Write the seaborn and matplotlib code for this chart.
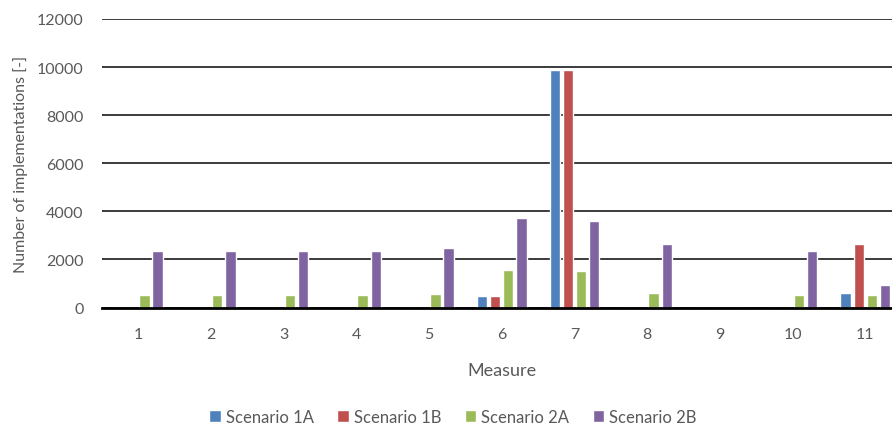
import matplotlib
matplotlib.use('Agg')
import matplotlib.pyplot as plt
import pandas as pd
import seaborn as sns

measures = ['1', '2', '3', '4', '5', '6', '7', '8', '9', '10', '11']
scenarios = ['Scenario 1A', 'Scenario 1B', 'Scenario 2A', 'Scenario 2B']
s1a = [0, 0, 0, 0, 0, 490, 9870, 0, 0, 0, 620]
s1b = [0, 0, 0, 0, 0, 490, 9870, 0, 0, 0, 2650]
s2a = [520, 520, 520, 520, 560, 1540, 1510, 590, 0, 510, 540]
s2b = [2350, 2350, 2350, 2350, 2470, 3740, 3610, 2640, 0, 2365, 925]
colors = ['#4F81BD', '#C0504D', '#9BBB59', '#8064A2']

rows = []
for name, vals in zip(scenarios, [s1a, s1b, s2a, s2b]):
    for m, v in zip(measures, vals):
        rows.append({'Measure': m, 'Scenario': name, 'Count': v})
df = pd.DataFrame(rows)

sns.set_theme(style='white')
plt.rcParams['font.family'] = ['Lato', 'DejaVu Sans']

f = plt.figure(figsize=(8.92, 4.27), dpi=100)
ax = f.add_axes([0.1139, 0.2775, 0.897, 0.6757])
sns.barplot(data=df, x='Measure', y='Count', hue='Scenario', order=measures,
            hue_order=scenarios, palette=colors, width=0.72, gap=0.2,
            saturation=1, ax=ax, legend=True)

ax.set_ylim(0, 12000)
ax.set_xlim(-0.5, 10.5)
ax.set_yticks(range(0, 12001, 2000))
ax.yaxis.grid(True, color='#1a1a1a', linewidth=1.2)
ax.set_axisbelow(True)
for s in ['left', 'right', 'top']:
    ax.spines[s].set_visible(False)
ax.spines['bottom'].set_color('black')
ax.spines['bottom'].set_linewidth(2)
ax.tick_params(axis='x', length=0, pad=14, labelsize=11.5, labelcolor='#595959')
ax.tick_params(axis='y', length=0, pad=13, labelsize=11.5, labelcolor='#595959')
ax.set_xlabel('Measure', fontsize=13, color='#595959')
ax.xaxis.set_label_coords(0.5, -0.19)
ax.set_ylabel('Number of implementations [-]', fontsize=11.5, color='#595959')
ax.yaxis.set_label_coords(-0.092, 0.5)

handles, labels = ax.get_legend_handles_labels()
ax.get_legend().remove()
f.legend(handles, labels, loc='center', bbox_to_anchor=(0.508, 1 - 418 / 427),
         ncol=4, frameon=False, fontsize=12, handlelength=0.7, handleheight=0.7,
         handletextpad=0.3, columnspacing=1.4, labelcolor='#595959')

f.savefig('out.png', dpi=100)
plt.close('all')
